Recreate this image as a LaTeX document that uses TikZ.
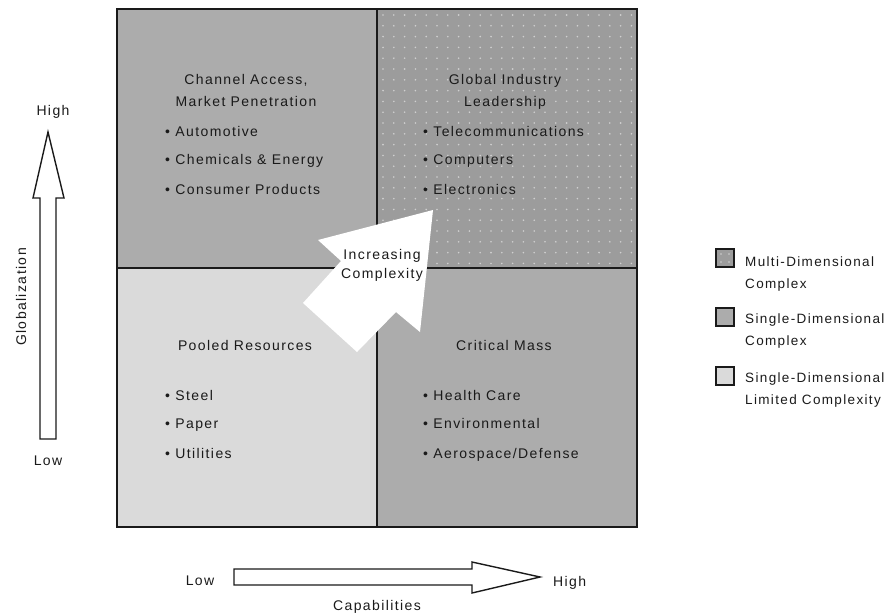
\documentclass[tikz,border=0pt]{standalone}
\usepackage{fontspec}
\setmainfont{Liberation Sans}[LetterSpace=10]
\definecolor{sdcfill}{HTML}{ACACAC}
\definecolor{mdcfill}{HTML}{9C9C9C}
\definecolor{mdcdot}{HTML}{D0D0D0}
\definecolor{sdlfill}{HTML}{DADADA}
\definecolor{inkc}{HTML}{1A1A1A}
\begin{document}
\begin{tikzpicture}[x=1pt,y=-1pt,
  txt/.style={font=\fontsize{14}{16}\selectfont, inner sep=0pt, text=inkc},
  title/.style={txt, anchor=base},
  item/.style={txt, anchor=base west},
  legtxt/.style={font=\fontsize{13.5}{16}\selectfont, inner sep=0pt, text=inkc, anchor=base west},
  frameline/.style={line width=2pt, draw=inkc},
  blockarrow/.style={line width=1.4pt, draw=inkc, fill=white, line join=miter},
  legbox/.style={line width=2pt, draw=inkc}]
\useasboundingbox (0,0) rectangle (891,614);

% quadrant fills
\fill[sdcfill] (117,9) rectangle (377,268);
\fill[mdcfill] (377,9) rectangle (637,268);
\fill[sdlfill] (117,268) rectangle (377,527);
\fill[sdcfill] (377,268) rectangle (637,527);
% dotted texture of the upper right quadrant
\foreach \i in {0,...,23}
  \foreach \j in {0,...,23}
    \fill[mdcdot] (383+\i*10.8,15+\j*10.8) circle (0.9);

% frame and dividing lines
\draw[frameline] (117,9) rectangle (637,527);
\draw[frameline] (377,9) -- (377,527);
\draw[frameline] (117,268) -- (637,268);

% central wide arrow
\fill[white] (433,210) -- (318,240) -- (341,261) -- (303,303) -- (357,352)
  -- (396,312) -- (420,332) -- cycle;
\node[title] (inc1) at (382,259) {Increasing};
\node[title] (inc2) at (382,278) {Complexity};

% upper left quadrant
\node[title] (tl1) at (246,84) {Channel Access,};
\node[title] (tl2) at (246,106) {Market Penetration};
\node[item] (tla) at (165,136) {• Automotive};
\node[item] (tlb) at (165,164) {• Chemicals \& Energy};
\node[item] (tlc) at (165,194) {• Consumer Products};

% upper right quadrant
\node[title] (tr1) at (505,84) {Global Industry};
\node[title] (tr2) at (505,106) {Leadership};
\node[item] (tra) at (423,136) {• Telecommunications};
\node[item] (trb) at (423,164) {• Computers};
\node[item] (trc) at (423,194) {• Electronics};

% lower left quadrant
\node[title] (bl1) at (245,350) {Pooled Resources};
\node[item] (bla) at (165,400) {• Steel};
\node[item] (blb) at (165,428) {• Paper};
\node[item] (blc) at (165,458) {• Utilities};

% lower right quadrant
\node[title] (br1) at (504,350) {Critical Mass};
\node[item] (bra) at (423,400) {• Health Care};
\node[item] (brb) at (423,428) {• Environmental};
\node[item] (brc) at (423,458) {• Aerospace/Defense};

% vertical axis
\draw[blockarrow] (40,439) -- (40,198) -- (33,198) -- (48,132) -- (64,198)
  -- (56,198) -- (56,439) -- cycle;
\node[title] (vhigh) at (53,115) {High};
\node[title] (vlow) at (48,465) {Low};
\node[txt, rotate=90] (vaxis) at (21,297) {Globalization};

% horizontal axis
\draw[blockarrow] (234,569) -- (472,569) -- (472,562) -- (540,577) -- (472,593)
  -- (472,585) -- (234,585) -- cycle;
\node[title] (hlow) at (200,585) {Low};
\node[item] (hhigh) at (553,586) {High};
\node[title] (haxis) at (377,610) {Capabilities};

% legend
\fill[mdcfill] (716,249) rectangle (734,267);
\fill[mdcdot] (721,254) circle (0.9) (729,254) circle (0.9) (721,262) circle (0.9) (729,262) circle (0.9);
\draw[legbox] (716,249) rectangle (734,267);
\fill[sdcfill] (716,308) rectangle (734,326);
\draw[legbox] (716,308) rectangle (734,326);
\fill[sdlfill] (716,367) rectangle (734,385);
\draw[legbox] (716,367) rectangle (734,385);
\node[legtxt] (lg1a) at (745,266) {Multi-Dimensional};
\node[legtxt] (lg1b) at (745,288) {Complex};
\node[legtxt] (lg2a) at (745,323) {Single-Dimensional};
\node[legtxt] (lg2b) at (745,345) {Complex};
\node[legtxt] (lg3a) at (745,382) {Single-Dimensional};
\node[legtxt] (lg3b) at (745,404) {Limited Complexity};
\end{tikzpicture}
\end{document}
